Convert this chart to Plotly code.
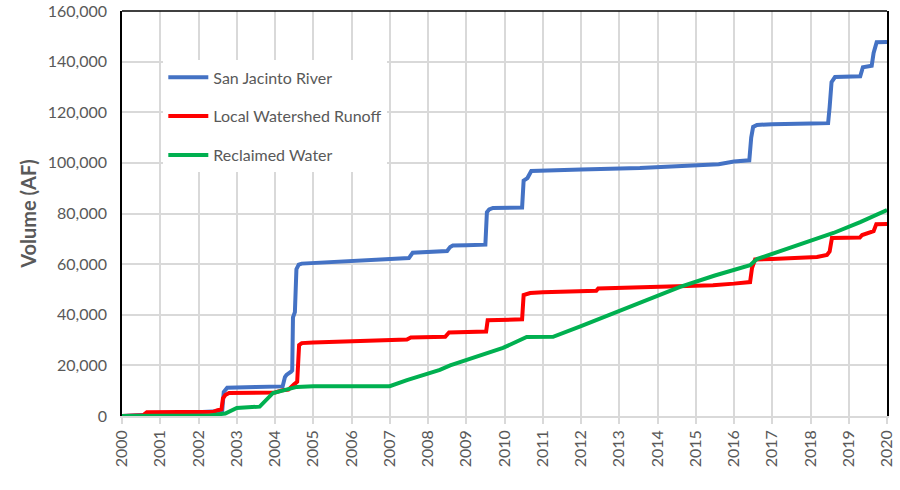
import plotly.graph_objects as go

# San Jacinto River (decimal year, acre-feet cumulative)
sjr_x = [2000.0, 2002.62, 2002.66, 2002.75, 2003.5, 2004.2, 2004.26, 2004.3, 2004.42, 2004.45,
         2004.47, 2004.52, 2004.56, 2004.62, 2004.7, 2005.0, 2006.0, 2007.0, 2007.45, 2007.5,
         2007.6, 2008.0, 2008.5, 2008.58, 2008.65, 2009.0, 2009.5, 2009.54, 2009.6, 2009.7,
         2010.46, 2010.5, 2010.6, 2010.7, 2011.0, 2012.0, 2013.54, 2015.29, 2015.6, 2016.0,
         2016.4, 2016.45, 2016.5, 2016.6, 2017.0, 2018.0, 2018.46, 2018.5, 2018.55, 2018.64,
         2019.3, 2019.37, 2019.6, 2019.65, 2019.73, 2020.0]
sjr_y = [0, 2000, 9500, 11200, 11500, 11700, 15400, 16200, 17500, 18000,
         39000, 41000, 58000, 59800, 60200, 60400, 61000, 61700, 62000, 62400,
         64500, 64800, 65200, 66800, 67400, 67500, 67700, 80500, 81600, 82200,
         82400, 93000, 94000, 96800, 97000, 97400, 98000, 99100, 99500, 100500,
         101000, 110000, 114200, 115000, 115300, 115600, 115700, 122000, 131900, 133900,
         134200, 137800, 138400, 143400, 147700, 147800]

# Local Watershed Runoff
lwr_x = [2000.0, 2000.55, 2000.65, 2001.5, 2002.4, 2002.5, 2002.6, 2002.64, 2002.7, 2002.8,
         2003.5, 2004.0, 2004.2, 2004.35, 2004.5, 2004.58, 2004.63, 2004.7, 2005.0, 2006.0,
         2007.0, 2007.45, 2007.55, 2008.0, 2008.45, 2008.55, 2009.0, 2009.52, 2009.56, 2010.0,
         2010.46, 2010.5, 2010.67, 2011.0, 2012.4, 2012.45, 2013.0, 2014.4, 2015.45, 2016.0,
         2016.42, 2016.47, 2016.55, 2017.0, 2017.54, 2018.17, 2018.43, 2018.5, 2018.56, 2019.29,
         2019.35, 2019.48, 2019.65, 2019.72, 2020.0]
lwr_y = [0, 300, 1500, 1600, 1700, 2300, 2600, 7000, 8300, 9100,
         9200, 9300, 10200, 10400, 12500, 13500, 28000, 28800, 29000, 29400,
         29800, 30200, 31000, 31200, 31300, 33000, 33200, 33400, 37800, 38000,
         38200, 47800, 48600, 48900, 49500, 50400, 50600, 51000, 51700, 52300,
         52900, 58400, 61800, 62000, 62400, 62800, 63600, 65000, 70300, 70500,
         71500, 72300, 73000, 75800, 75900]

# Reclaimed Water
rw_x = [2000.0, 2002.3, 2002.7, 2002.85, 2003.0, 2003.3, 2003.6, 2003.95, 2004.3, 2004.57,
        2005.0, 2006.0, 2007.0, 2007.45, 2008.31, 2008.58, 2009.96, 2010.58, 2011.27, 2012.0,
        2013.0, 2014.59, 2015.5, 2016.42, 2016.6, 2017.5, 2018.6, 2019.3, 2020.0]
rw_y = [0, 200, 1000, 2200, 3200, 3500, 3700, 9100, 10600, 11500,
        11800, 11800, 11800, 14200, 18200, 20000, 26900, 31200, 31300, 35500,
        41400, 51000, 55500, 59600, 62000, 66500, 72300, 76600, 81400]

series = [
    ("San Jacinto River", sjr_x, sjr_y, "#4472C4"),
    ("Local Watershed Runoff", lwr_x, lwr_y, "#FF0000"),
    ("Reclaimed Water", rw_x, rw_y, "#00B050"),
]

year_ticks = list(range(2000, 2021))
y_ticks = list(range(0, 160001, 20000))

fig = go.Figure()
for i, (name, xs, ys, col) in enumerate(series):
    fig.add_trace(go.Scatter(x=xs, y=ys, mode="lines", name=name,
                             legendgroup=f"g{i}",
                             line=dict(color=col, width=4)))

font_fam = "Lato, Liberation Sans, sans-serif"
fig.update_layout(
    width=900, height=490,
    margin=dict(l=122, r=13, t=11, b=74),
    paper_bgcolor="white", plot_bgcolor="white",
    font=dict(family=font_fam, color="#595959"),
    showlegend=True,
    legend=dict(x=0.054, y=0.878, xanchor="left", yanchor="top",
                bgcolor="white", borderwidth=0,
                font=dict(size=16, color="#595959", family=font_fam),
                traceorder="grouped", tracegroupgap=15,
                itemwidth=40),
    xaxis=dict(range=[2000, 2020], tickvals=year_ticks, automargin=False,
               ticktext=[str(v) for v in year_ticks], tickangle=-90,
               showgrid=True, gridcolor="#D9D9D9", gridwidth=1.5,
               ticks="outside", ticklen=6, tickcolor="#D9D9D9", tickwidth=1.5,
               showline=True, linecolor="#D9D9D9", linewidth=1.5,
               tickfont=dict(size=16, color="#595959"), zeroline=False),
    yaxis=dict(range=[0, 160000], tickvals=y_ticks, automargin=False,
               ticktext=[f"{v:,}" for v in y_ticks],
               showgrid=True, gridcolor="#D9D9D9", gridwidth=1.5,
               ticks="outside", ticklen=10, tickcolor="rgba(0,0,0,0)",
               showline=True, linecolor="black", linewidth=1.5, mirror=True,
               tickfont=dict(size=16, color="#595959"), zeroline=False,
               title=dict(text="<b>Volume (AF)</b>", font=dict(size=20, color="#595959"),
                          standoff=6)),
    shapes=[dict(type="line", xref="paper", yref="paper", x0=0, x1=1, y0=1, y1=1,
                 line=dict(color="black", width=1.5))],
)

fig.write_html("out.html", config={"displayModeBar": False},
               post_script="document.body.style.margin='0';document.body.style.padding='0';")
